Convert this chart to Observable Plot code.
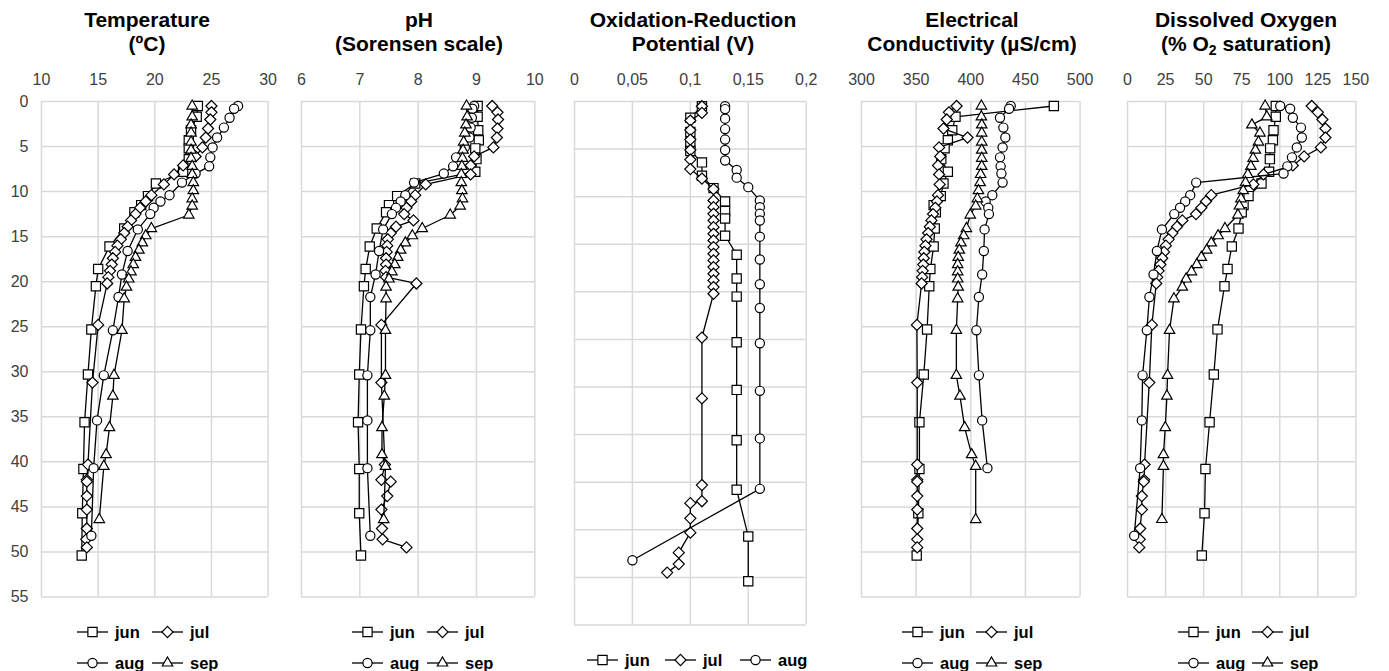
<!DOCTYPE html>
<html>
<head>
<meta charset="utf-8">
<script src="https://cdn.jsdelivr.net/npm/d3@7"></script>
<script src="https://cdn.jsdelivr.net/npm/@observablehq/plot@0.6"></script>
<style>
  body { margin: 0; background: #fff; font-family: "Liberation Sans", Arial, sans-serif; }
  #chart { position: relative; width: 1389px; height: 671px; overflow: hidden; background: #fff; }
  .title { position: absolute; top: 7.5px; width: 320px; text-align: center; font-weight: bold;
           font-size: 21px; line-height: 24px; color: #000; white-space: nowrap; }
  .title sub { font-size: 14px; vertical-align: -4px; line-height: 0; }
</style>
</head>
<body>
<div id="chart"></div>
<script>
// ---------------- data ----------------
const months = ["jun", "jul", "aug", "sep"];
const depthTicks = [0, 5, 10, 15, 20, 25, 30, 35, 40, 45, 50, 55];

const tempTicks = [10, 15, 20, 25, 30];
const phTicks = [6, 7, 8, 9, 10];
const orpTicks = [0, 0.05, 0.1, 0.15, 0.2];
const ecTicks = [300, 350, 400, 450, 500];
const doTicks = [0, 25, 50, 75, 100, 125, 150];

// depths (m) of each monthly profile
const depthJun = [0.5, 1.7, 3.2, 4.3, 5.2, 6.4, 7.8, 9.1, 10.5, 11.5, 12.3, 14.1, 16.1, 18.6, 20.5, 25.3, 30.3, 35.6, 40.8, 45.7, 50.4];
const depthJul = [0.5, 1.2, 2.0, 3.0, 4.0, 5.1, 6.1, 7.1, 8.1, 9.2, 10.4, 11.1, 11.8, 12.5, 13.2, 13.9, 14.6, 15.3, 16.0, 16.7, 17.4, 18.1, 18.8, 19.5, 20.2, 24.8, 31.2, 40.3, 42.0, 42.2, 43.8, 45.3, 47.4, 48.6, 49.5];
const depthAug = [0.5, 0.8, 1.8, 2.9, 4.0, 5.1, 6.2, 7.2, 8.0, 9.0, 10.4, 11.1, 11.8, 12.5, 14.2, 16.6, 19.2, 21.7, 25.4, 30.4, 35.4, 40.7, 48.2];
const depthSep = [0.5, 1.7, 2.6, 3.5, 4.5, 5.4, 6.3, 7.2, 8.1, 9.0, 9.9, 10.8, 11.6, 12.6, 14.1, 14.9, 15.7, 16.5, 17.3, 18.1, 18.9, 19.7, 20.6, 21.9, 25.4, 30.4, 32.7, 36.2, 39.2, 40.5, 46.4];

// Temperature (ºC)
const tempJun = [23.8, 23.7, 23.2, 23.0, 23.0, 23.0, 22.5, 20.1, 19.4, 18.8, 18.2, 17.3, 16.0, 15.0, 14.8, 14.4, 14.1, 13.8, 13.7, 13.6, 13.55];
const tempJul = [25.0, 25.0, 24.9, 24.7, 24.5, 24.2, 23.6, 22.5, 21.7, 20.8, 19.7, 19.2, 18.7, 18.3, 17.9, 17.6, 17.3, 17.0, 16.7, 16.5, 16.3, 16.2, 16.05, 15.9, 15.8, 15.0, 14.5, 14.1, 14.0, 14.0, 14.0, 14.0, 14.0, 13.95, 14.0];
const tempAug = [27.35, 27.0, 26.6, 26.1, 25.5, 25.1, 24.9, 24.8, 23.6, 22.4, 21.3, 20.5, 19.9, 19.6, 18.5, 17.6, 17.1, 16.8, 16.3, 15.5, 14.9, 14.6, 14.4];
const tempSep = [23.3, 23.3, 23.2, 23.2, 23.2, 23.2, 23.2, 23.3, 23.3, 23.4, 23.4, 23.3, 23.3, 23.0, 19.7, 19.2, 18.9, 18.6, 18.3, 18.1, 17.9, 17.7, 17.5, 17.3, 17.1, 16.4, 16.3, 16.0, 15.7, 15.5, 15.1];

// pH (Sorensen scale)
const phJun = [9.02, 9.02, 9.03, 9.04, 8.98, 9.0, 8.98, 7.95, 7.64, 7.5, 7.45, 7.29, 7.17, 7.10, 7.07, 7.02, 6.99, 6.97, 6.99, 6.99, 7.02];
const phJul = [9.27, 9.36, 9.37, 9.36, 9.35, 9.29, 8.96, 8.9, 8.9, 8.13, 7.95, 7.88, 7.8, 7.76, 7.92, 7.62, 7.53, 7.48, 7.47, 7.46, 7.45, 7.45, 7.44, 7.45, 7.97, 7.37, 7.37, 7.43, 7.37, 7.53, 7.47, 7.37, 7.38, 7.39, 7.80];
const phAug = [8.96, 8.93, 8.92, 8.9, 8.88, 8.8, 8.65, 8.6, 8.44, 7.93, 7.78, 7.7, 7.62, 7.55, 7.40, 7.33, 7.27, 7.18, 7.18, 7.13, 7.13, 7.13, 7.18];
const phSep = [8.83, 8.84, 8.82, 8.8, 8.78, 8.77, 8.76, 8.75, 8.74, 8.74, 8.75, 8.76, 8.72, 8.55, 8.07, 7.9, 7.78, 7.7, 7.65, 7.6, 7.55, 7.5, 7.45, 7.45, 7.44, 7.44, 7.42, 7.38, 7.38, 7.44, 7.41];

// Oxidation-Reduction Potential (V)
const orpJun = [0.11, 0.10, 0.10, 0.10, 0.10, 0.11, 0.11, 0.12, 0.13, 0.13, 0.13, 0.13, 0.14, 0.14, 0.14, 0.14, 0.14, 0.14, 0.14, 0.15, 0.15];
const orpJul = [0.11, 0.11, 0.10, 0.10, 0.10, 0.10, 0.10, 0.10, 0.11, 0.12, 0.12, 0.12, 0.12, 0.12, 0.12, 0.12, 0.12, 0.12, 0.12, 0.12, 0.12, 0.12, 0.12, 0.12, 0.12, 0.11, 0.11, 0.11, 0.11, 0.10, 0.10, 0.10, 0.09, 0.09, 0.08];
const orpAug = [0.13, 0.13, 0.13, 0.13, 0.13, 0.13, 0.13, 0.14, 0.14, 0.15, 0.16, 0.16, 0.16, 0.16, 0.16, 0.16, 0.16, 0.16, 0.16, 0.16, 0.16, 0.16, 0.05];

// Electrical Conductivity (µS/cm)
const ecJun = [476, 386, 383, 379, 376, 373, 379, 375, 372.5, 366, 368, 367, 366, 363, 362, 360, 357, 353, 353, 352, 350.5];
const ecJul = [387, 380, 378, 375, 397, 371, 372, 370, 371, 371.5, 370, 369, 367.5, 365.5, 364, 362.5, 361, 359.5, 358.5, 357.5, 357, 356.5, 356, 355.5, 355, 350.7, 351, 351, 351, 351, 351, 351, 351, 351, 351];
const ecAug = [436.5, 435, 426.7, 429.8, 431.6, 429.1, 426.7, 427.3, 428, 429.1, 419.7, 413.6, 416, 416.6, 412.6, 411.9, 410.4, 407.4, 405.1, 407.4, 410.4, 415.2, null];
const ecSep = [409.7, 409.7, 410, 410, 410, 410, 410, 410, 409, 408.5, 407, 406, 404.5, 399.5, 396, 393.5, 391, 389.5, 388.5, 388, 388, 388, 388.5, 388, 386.8, 386.8, 390.1, 394.4, 400.8, 404.5, 404.5];

// Dissolved Oxygen (% O2 saturation)
const doJun = [97.4, 97.4, 95.9, 95.5, 93.7, 93.5, 93.0, 88.0, 79.5, 76.2, 75.0, 72.9, 68.5, 65.7, 63.7, 59.1, 56.7, 53.9, 51.2, 50.6, 48.8];
const doJul = [121, 125, 128, 130, 130, 127, 116, 108.6, 89.3, 82.7, 55, 51.5, 48.5, 45, 36, 32.5, 29.5, 27, 25.2, 24, 22.8, 21.6, 20.4, 19.5, 18.9, 16.0, 14.3, 11.2, 10.9, 10.7, 9.4, 9.4, 8.3, 8.0, 7.7];
const doAug = [100.3, 106.8, 108.6, 113.9, 114.5, 111.2, 108.0, 105, 102.5, 45.1, 41.2, 37.9, 34.5, 30.7, 22.6, 19.3, 17.1, 14.4, 12.7, 9.9, 9.4, 8.3, 4.4];
const doSep = [90.4, 91.5, 81.7, 87.0, 86.0, 84.0, 82.5, 81.0, 79.0, 77.5, 76.0, 74.5, 73.5, 72.5, 64.0, 59.5, 55.0, 52.0, 48.5, 45.5, 42.0, 38.5, 36.0, 30.5, 27.6, 26.3, 25.9, 24.8, 23.6, 23.6, 22.6];

// ---------------- layout / style ----------------
const depths = {jun: depthJun, jul: depthJul, aug: depthAug, sep: depthSep};
const symbols = {jun: "square", jul: "diamond2", aug: "circle", sep: "triangle2"};
const d3symbols = {jun: d3.symbolSquare, jul: d3.symbolDiamond2, aug: d3.symbolCircle, sep: d3.symbolTriangle2};
const radius = {jun: 5.2, jul: 5, aug: 4.6, sep: 5};
const commaFmt = d => String(d).replace(".", ",");

const panels = [
  {title: "Temperature<br>(ºC)", tc: 147, x0: 40.7, x1: 267.3, y1: 596, dom: [10, 30], ticks: tempTicks, showY: true,
   series: {jun: tempJun, jul: tempJul, aug: tempAug, sep: tempSep},
   legend: [{m: "jun", x: 77, y: 632}, {m: "jul", x: 152, y: 632}, {m: "aug", x: 77, y: 663}, {m: "sep", x: 152, y: 663}]},
  {title: "pH<br>(Sorensen scale)", tc: 419, x0: 301, x1: 534.3, y1: 596, dom: [6, 10], ticks: phTicks, showY: false,
   series: {jun: phJun, jul: phJul, aug: phAug, sep: phSep},
   legend: [{m: "jun", x: 352, y: 632}, {m: "jul", x: 427, y: 632}, {m: "aug", x: 352, y: 663}, {m: "sep", x: 427, y: 663}]},
  {title: "Oxidation-Reduction<br>Potential (V)", tc: 693, x0: 574.3, x1: 806, y1: 624, dom: [0, 0.2], ticks: orpTicks, fmt: commaFmt, showY: false,
   series: {jun: orpJun, jul: orpJul, aug: orpAug},
   legend: [{m: "jun", x: 587, y: 660}, {m: "jul", x: 665, y: 660}, {m: "aug", x: 740, y: 660}]},
  {title: "Electrical<br>Conductivity (µS/cm)", tc: 972, x0: 860.7, x1: 1079.3, y1: 596, dom: [300, 500], ticks: ecTicks, showY: false,
   series: {jun: ecJun, jul: ecJul, aug: ecAug, sep: ecSep},
   legend: [{m: "jun", x: 902, y: 632}, {m: "jul", x: 976, y: 632}, {m: "aug", x: 902, y: 663}, {m: "sep", x: 976, y: 663}]},
  {title: "Dissolved Oxygen<br>(% O<sub>2</sub> saturation)", tc: 1246, x0: 1127.3, x1: 1355.7, y1: 596, dom: [0, 150], ticks: doTicks, showY: false,
   series: {jun: doJun, jul: doJul, aug: doAug, sep: doSep},
   legend: [{m: "jun", x: 1178, y: 632}, {m: "jul", x: 1252, y: 632}, {m: "aug", x: 1178, y: 663}, {m: "sep", x: 1252, y: 663}]}
];

const chart = document.getElementById("chart");
const plotTop = 100.5;
const gridStyle = {stroke: "#d9d9d9", strokeOpacity: 1, strokeWidth: 1.5};

for (const p of panels) {
  const mL = 45, mT = 40, mR = 15, mB = 10;
  const width = (p.x1 - p.x0) + mL + mR;
  const height = (p.y1 - plotTop) + mT + mB;
  const marks = [
    Plot.gridX({ticks: p.ticks, ...gridStyle}),
    Plot.gridY({ticks: depthTicks, ...gridStyle}),
    Plot.axisX({anchor: "top", ticks: p.ticks, tickSize: 0, tickPadding: 16, tickFormat: p.fmt || (d => String(d)), label: null})
  ];
  if (p.showY) marks.push(Plot.axisY({anchor: "left", ticks: depthTicks, tickSize: 0, tickPadding: 13, label: null}));
  for (const m of months) {
    const vals = p.series[m];
    if (!vals) continue;
    const rows = depths[m].map((d, i) => ({d, v: vals[i]})).filter(r => r.v != null);
    marks.push(Plot.line(rows, {x: "v", y: "d", stroke: "#000", strokeWidth: 1.3}));
    marks.push(Plot.dot(rows, {x: "v", y: "d", symbol: symbols[m], r: radius[m], fill: "#fff", stroke: "#000", strokeWidth: 1.2}));
  }
  const yOpts = {domain: [0, 55], reverse: true};
  if (!p.showY) yOpts.axis = null;
  const svg = Plot.plot({
    width, height, marginLeft: mL, marginTop: mT, marginRight: mR, marginBottom: mB,
    x: {domain: p.dom},
    y: yOpts,
    style: {fontSize: "16px", fontFamily: "'Liberation Sans', Arial, sans-serif", color: "#404040", background: "transparent", overflow: "visible"},
    marks
  });
  svg.style.position = "absolute";
  svg.style.left = (p.x0 - mL) + "px";
  svg.style.top = (plotTop - mT) + "px";
  chart.appendChild(svg);

  const t = document.createElement("div");
  t.className = "title";
  t.innerHTML = p.title;
  t.style.left = (p.tc - 160) + "px";
  chart.appendChild(t);
}

// legends
const leg = d3.select(chart).append("svg")
  .attr("width", 1389).attr("height", 671)
  .style("position", "absolute").style("left", 0).style("top", 0)
  .style("pointer-events", "none");
for (const p of panels) {
  for (const it of p.legend) {
    const g = leg.append("g").attr("transform", `translate(${it.x},${it.y})`);
    g.append("line").attr("x1", 0).attr("x2", 31).attr("y1", 0).attr("y2", 0)
      .attr("stroke", "#000").attr("stroke-width", 1.3);
    g.append("path")
      .attr("transform", "translate(15.5,0)")
      .attr("d", d3.symbol().type(d3symbols[it.m]).size(Math.PI * radius[it.m] * radius[it.m])())
      .attr("fill", "#fff").attr("stroke", "#000").attr("stroke-width", 1.2);
    g.append("text").attr("x", 38).attr("y", 6)
      .attr("font-family", "'Liberation Sans', Arial, sans-serif")
      .attr("font-size", 16.5).attr("font-weight", "bold").attr("fill", "#000")
      .text(it.m);
  }
}
</script>
</body>
</html>
